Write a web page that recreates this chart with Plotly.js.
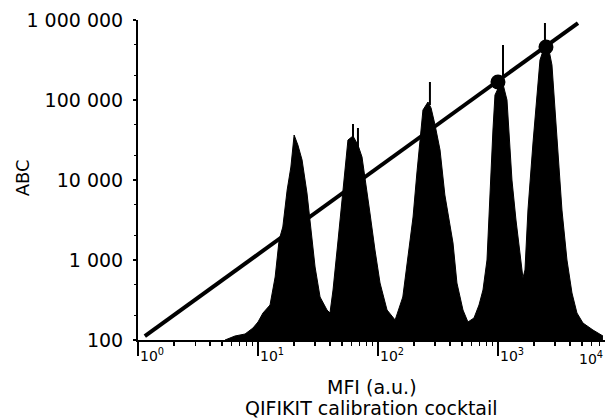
<!DOCTYPE html>
<html>
<head>
<meta charset="utf-8">
<script src="https://cdn.plot.ly/plotly-3.0.1.min.js"></script>
<style>
  html, body { margin: 0; padding: 0; background: #ffffff; }
  #chart { width: 607px; height: 418px; }
</style>
</head>
<body>
<div id="chart"></div>
<script>
// Fluorescence histogram of the QIFIKIT bead cocktail (MFI in a.u., relative counts)
var histMFI = [5.31, 6.43, 7.80, 9.08, 10.0, 11.0, 12.6, 13.9, 15.0, 16.1, 17.5, 18.8, 20.0, 21.5, 23.3, 25.6, 27.1, 29.9, 32.9, 37.6,
  39.8, 42.2, 46.5, 50.1, 53.1, 56.2, 61.9, 68.1, 73.6, 78.0, 85.7, 94.4, 104, 119,
  139, 161, 178, 196, 211, 224, 237, 261, 277, 299, 329, 361, 391, 422, 455, 511,
  562, 631, 695, 750, 810, 841, 874, 908, 944, 1080, 1189, 1235, 1308, 1413, 1525, 1615,
  1679, 1778, 1958, 2113, 2239, 2464, 2661, 2818, 2985, 3162, 3414, 3758, 4138, 4553, 5109, 6190, 7499];
var histCount = [0, 4, 6, 12, 18, 27, 35, 63, 100, 113, 150, 173, 205, 195, 180, 147, 120, 73, 43, 30,
  27, 50, 100, 140, 177, 200, 204, 195, 183, 160, 127, 90, 57, 30,
  20, 43, 83, 123, 167, 200, 230, 238, 232, 215, 190, 145, 120, 97, 57, 30,
  18, 22, 35, 50, 80, 125, 170, 210, 245, 260, 240, 210, 160, 120, 85, 62,
  70, 130, 197, 247, 280, 295, 290, 275, 230, 180, 130, 80, 47, 27, 17, 10, 4];

// Thin spikes standing on top of the peaks (MFI, count from / to)
var spikeMFI = [61.9, 61.9, null, 68.1, 68.1, null, 271, 271, null, 1101, 1101, null, 2464, 2464];
var spikeCount = [200, 216, null, 190, 212, null, 235, 258, null, 255, 295, null, 290, 317];

// Calibration line (ABC vs MFI) and the calibration points on it
var lineMFI = [1.14, 4642];
var lineABC = [112, 917000];
var pointMFI = [1000, 2512];
var pointABC = [168000, 460000];

// Axis tick labels
var yTickVals = [100, 1000, 10000, 100000, 1000000];
var yTickText = ["100", "1 000", "10 000", "100 000", "1 000 000"];
var xTickVals = [1, 10, 100, 1000];
var xTickText = ["10<sup>0</sup>", "10<sup>1</sup>", "10<sup>2</sup>", "10<sup>3</sup>"];
var xLastTick = "10<sup>4</sup>";
var xTitle = "MFI (a.u.)";
var subTitle = "QIFIKIT calibration cocktail";
var yTitle = "ABC";

var FONT = "DejaVu Sans, Arial, sans-serif";

var traces = [
  {
    x: histMFI, y: histCount, xaxis: "x", yaxis: "y2",
    type: "scatter", mode: "lines", fill: "tozeroy",
    fillcolor: "#000000", line: {color: "#000000", width: 1},
    hoverinfo: "skip"
  },
  {
    x: spikeMFI, y: spikeCount, xaxis: "x", yaxis: "y2",
    type: "scatter", mode: "lines", connectgaps: false,
    line: {color: "#000000", width: 2},
    hoverinfo: "skip"
  },
  {
    x: lineMFI, y: lineABC, xaxis: "x", yaxis: "y",
    type: "scatter", mode: "lines",
    line: {color: "#000000", width: 4}
  },
  {
    x: pointMFI, y: pointABC, xaxis: "x", yaxis: "y",
    type: "scatter", mode: "markers",
    marker: {color: "#000000", size: 15}
  }
];

var layout = {
  width: 607, height: 418,
  margin: {l: 138, r: 2, t: 20, b: 78, pad: 0},
  paper_bgcolor: "#ffffff", plot_bgcolor: "#ffffff",
  showlegend: false,
  font: {family: FONT, color: "#000000"},
  xaxis: {
    type: "log", range: [0, 3.892],
    showline: true, linewidth: 2, linecolor: "#000000",
    showgrid: false, zeroline: false,
    ticks: "outside", ticklen: 14, tickwidth: 2, tickcolor: "#000000",
    tickmode: "array", tickvals: xTickVals, ticktext: xTickText,
    ticklabelposition: "outside right", ticklabelstandoff: 2,
    tickfont: {family: FONT, size: 14, color: "#000000"},
    minor: {ticks: "outside", ticklen: 4, tickwidth: 1.5, tickcolor: "#000000", dtick: "D1", showgrid: false}
  },
  yaxis: {
    type: "log", range: [2, 6],
    showline: true, linewidth: 2, linecolor: "#000000",
    showgrid: false, zeroline: false,
    ticks: "outside", ticklen: 3, tickwidth: 2, tickcolor: "#000000",
    tickmode: "array", tickvals: yTickVals, ticktext: yTickText,
    ticklabelstandoff: 6,
    tickfont: {family: FONT, size: 19, color: "#000000"},
    minor: {ticks: "outside", ticklen: 2, tickwidth: 1, tickcolor: "#000000", dtick: "D2", showgrid: false}
  },
  yaxis2: {
    overlaying: "y", range: [0, 320], visible: false, fixedrange: true
  },
  annotations: [
    {text: xTitle, xref: "paper", yref: "paper", x: 0.5, y: -0.147, xanchor: "center", yanchor: "middle",
     showarrow: false, font: {family: FONT, size: 19, color: "#000000"}},
    {text: subTitle, xref: "paper", yref: "paper", x: 0.5, y: -0.211, xanchor: "center", yanchor: "middle",
     showarrow: false, font: {family: FONT, size: 19, color: "#000000"}},
    {text: yTitle, xref: "paper", yref: "paper", x: -0.248, y: 0.506, xanchor: "center", yanchor: "middle",
     textangle: -90, showarrow: false, font: {family: FONT, size: 18, color: "#000000"}},
    {text: xLastTick, xref: "paper", yref: "paper", x: 1, y: -0.056, xanchor: "right", yanchor: "middle",
     showarrow: false, font: {family: FONT, size: 14, color: "#000000"}}
  ]
};

Plotly.newPlot("chart", traces, layout, {staticPlot: true, displayModeBar: false});
</script>
</body>
</html>
